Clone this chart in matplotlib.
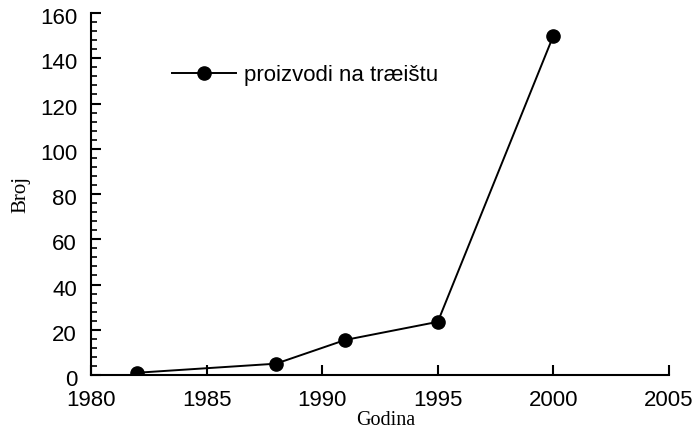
import matplotlib
matplotlib.use("Agg")
import matplotlib.pyplot as plt
from matplotlib.ticker import MultipleLocator
from matplotlib.transforms import ScaledTranslation

years = [1982, 1988, 1991, 1995, 2000]
counts = [1, 5, 15.5, 23.5, 150]
series_label = "proizvodi na tr\u00e6i\u0161tu"
x_label = "Godina"
y_label = "Broj"

fig = plt.figure(figsize=(6.94, 4.31), dpi=100)
ax = fig.add_axes([91/694, 55/431, (669-91)/694, (376-14)/431])

ax.plot(years, counts, color="black", lw=1.4, marker="o", markersize=9.5,
        label=series_label)

ax.set_xlim(1980, 2005)
ax.set_ylim(0, 160)
ax.xaxis.set_major_locator(MultipleLocator(5))
ax.yaxis.set_major_locator(MultipleLocator(20))
ax.yaxis.set_minor_locator(MultipleLocator(4))

for s in ["top", "right"]:
    ax.spines[s].set_visible(False)
for s in ["left", "bottom"]:
    ax.spines[s].set_linewidth(1.5)

ax.tick_params(axis="both", which="major", direction="in", length=7, width=1.5,
               labelsize=16, labelfontfamily="Liberation Sans")
ax.tick_params(axis="y", which="major", pad=10)
ax.tick_params(axis="x", which="major", pad=10)
ax.tick_params(axis="y", which="minor", direction="in", length=4, width=1.2)

# y tick labels sit slightly below their ticks in the reference
off = ScaledTranslation(0, -1.5/72, fig.dpi_scale_trans)
for lab in ax.get_yticklabels():
    lab.set_transform(lab.get_transform() + off)

ax.set_xlabel(x_label, fontsize=14.5, family="Liberation Serif", labelpad=0)
ax.xaxis.label.set_x(0.509)
ax.set_ylabel(y_label, fontsize=15, family="Liberation Serif", labelpad=7)

ax.legend(loc="center left", bbox_to_anchor=(172/694, 1 - 76/431),
          bbox_transform=fig.transFigure, frameon=False, borderpad=0,
          borderaxespad=0, prop={"family": "Liberation Sans", "size": 16},
          handlelength=2.9, handletextpad=0.36)

fig.savefig("out.png", dpi=100)
